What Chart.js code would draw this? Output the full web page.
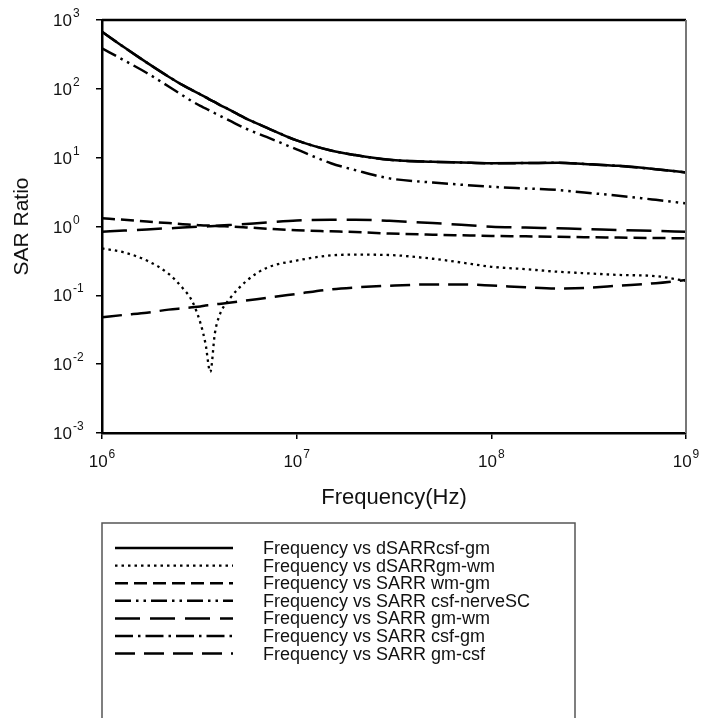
<!DOCTYPE html>
<html lang="en">
<head>
  <meta charset="UTF-8" />
  <title>SAR Ratio vs Frequency</title>
  <script src="https://cdn.jsdelivr.net/npm/chart.js"></script>
  <style>
    html, body { margin: 0; padding: 0; background: #fff; }
  </style>
</head>
<body>
  <canvas id="sarChart" width="702" height="718"></canvas>

<script>
  // Frequency samples (Hz), shared by every curve
  const freq = [1e6, 1.3e6, 1.7e6, 2.2e6, 2.6e6, 2.9e6, 3.2e6, 3.4e6, 3.6e6, 3.8e6, 4e6, 4.5e6, 5.5e6, 7e6,
                1e7, 1.5e7, 2e7, 3e7, 5e7, 7e7, 1e8, 1.5e8, 2.2e8, 3e8, 4.5e8, 7e8, 1e9];

  // Values
  const dSARRcsfGm   = [676, 401, 240, 150, 113, 96, 83, 76, 69, 64, 59, 50, 37, 27.4,
                        17.8, 12.7, 10.9, 9.3, 8.7, 8.5, 8.3, 8.35, 8.45, 8.1, 7.6, 6.8, 6.1];
  const dSARRgmWm    = [0.48, 0.42, 0.32, 0.205, 0.127, 0.083, 0.04, 0.02, 0.0077, 0.028, 0.05, 0.087, 0.16, 0.25,
                        0.32, 0.38, 0.39, 0.385, 0.34, 0.30, 0.26, 0.24, 0.22, 0.21, 0.198, 0.19, 0.162];
  const sarrWmGm     = [1.32, 1.25, 1.18, 1.12, 1.08, 1.06, 1.04, 1.035, 1.03, 1.02, 1.01, 1.0, 0.97, 0.93,
                        0.88, 0.85, 0.83, 0.79, 0.76, 0.745, 0.73, 0.72, 0.71, 0.70, 0.69, 0.68, 0.675];
  const sarrCsfNerve = [388, 259, 170, 108, 80, 66, 56.5, 52, 47.8, 44.2, 41.1, 34.8, 26.3, 20,
                        13.2, 8.3, 6.6, 5.0, 4.35, 4.05, 3.78, 3.57, 3.39, 3.12, 2.8, 2.44, 2.17];
  const sarrGmWm     = [0.84, 0.873, 0.908, 0.942, 0.964, 0.98, 0.993, 1.0, 1.01, 1.02, 1.03, 1.05, 1.09, 1.14,
                        1.22, 1.25, 1.25, 1.21, 1.12, 1.06, 0.995, 0.966, 0.94, 0.92, 0.89, 0.863, 0.84];
  const sarrCsfGm    = [676, 401, 240, 150, 113, 96, 83, 76, 69, 64, 59, 50, 37, 27.4,
                        17.8, 12.7, 10.9, 9.3, 8.7, 8.5, 8.3, 8.35, 8.45, 8.1, 7.6, 6.8, 6.1];
  const sarrGmCsf    = [0.048, 0.052, 0.056, 0.062, 0.065, 0.067, 0.069, 0.071, 0.072, 0.074, 0.075, 0.078, 0.084, 0.092,
                        0.105, 0.122, 0.130, 0.138, 0.144, 0.144, 0.139, 0.131, 0.126, 0.128, 0.138, 0.150, 0.167];

  const seriesLabels = [
    'Frequency vs dSARRcsf-gm',
    'Frequency vs dSARRgm-wm',
    'Frequency vs SARR wm-gm',
    'Frequency vs SARR csf-nerveSC',
    'Frequency vs SARR gm-wm',
    'Frequency vs SARR csf-gm',
    'Frequency vs SARR gm-csf'
  ];
  const seriesValues = [dSARRcsfGm, dSARRgmWm, sarrWmGm, sarrCsfNerve, sarrGmWm, sarrCsfGm, sarrGmCsf];

  // Tick labels are powers of ten
  const xTickExps = [6, 7, 8, 9];
  const yTickExps = [-3, -2, -1, 0, 1, 2, 3];

  // line styles for each curve (same order as labels)
  const dashes = [[], [2.5, 4], [13, 6], [16, 5, 2.5, 5, 2.5, 5], [25, 10], [18, 5, 2.5, 5], [20, 9]];
  const widths = [2.5, 2.3, 2.5, 2.5, 2.5, 2.5, 2.5];

  const FONT = '"Liberation Sans", Arial, sans-serif';
  Chart.defaults.font.family = FONT;
  Chart.defaults.color = '#111';

  const datasets = seriesValues.map((vals, i) => ({
    label: seriesLabels[i],
    data: freq.map((f, k) => ({ x: f, y: vals[k] })),
    borderColor: '#000',
    borderWidth: widths[i],
    borderDash: dashes[i],
    borderCapStyle: 'butt',
    pointRadius: 0,
    fill: false,
    cubicInterpolationMode: 'monotone'
  }));

  // top and right frame lines
  const framePlugin = {
    id: 'frame',
    afterDatasetsDraw(chart) {
      const { ctx, chartArea: a } = chart;
      ctx.save();
      ctx.strokeStyle = '#000';
      ctx.lineWidth = 2.5;
      ctx.beginPath();
      ctx.moveTo(a.left, a.top);
      ctx.lineTo(a.right, a.top);
      ctx.stroke();
      ctx.strokeStyle = '#777';
      ctx.lineWidth = 2;
      ctx.beginPath();
      ctx.moveTo(a.right, a.top);
      ctx.lineTo(a.right, a.bottom);
      ctx.stroke();
      ctx.restore();
    }
  };

  // "10^n" tick labels with raised exponent
  const powerLabels = {
    id: 'powerLabels',
    afterDraw(chart) {
      const { ctx, scales: { x, y } } = chart;
      ctx.save();
      ctx.fillStyle = '#111';
      ctx.textBaseline = 'alphabetic';
      yTickExps.forEach(e => {
        const py = y.getPixelForValue(Math.pow(10, e));
        const right = y.right - 30;
        ctx.font = '17px ' + FONT;
        ctx.textAlign = 'right';
        ctx.fillText('10', right, py + 6);
        ctx.font = '12px ' + FONT;
        ctx.textAlign = 'left';
        ctx.fillText(String(e), right + 1, py - 3);
      });
      xTickExps.forEach(e => {
        const px = x.getPixelForValue(Math.pow(10, e));
        ctx.font = '17px ' + FONT;
        const w10 = ctx.measureText('10').width;
        ctx.font = '12px ' + FONT;
        const we = ctx.measureText(String(e)).width;
        const start = px - (w10 + we + 1) / 2;
        ctx.textAlign = 'left';
        ctx.font = '17px ' + FONT;
        ctx.fillText('10', start, x.top + 34);
        ctx.font = '12px ' + FONT;
        ctx.fillText(String(e), start + w10 + 1, x.top + 25);
      });
      ctx.restore();
    }
  };

  // boxed legend under the plot
  const boxLegend = {
    id: 'boxLegend',
    afterDraw(chart) {
      const { ctx, scales: { x } } = chart;
      const left = x.left, top = 523, right = 575, bottom = 730;
      ctx.save();
      ctx.strokeStyle = '#555';
      ctx.lineWidth = 1.5;
      ctx.setLineDash([]);
      ctx.strokeRect(left, top, right - left, bottom - top);
      chart.data.datasets.forEach((ds, i) => {
        const ry = 548 + i * 17.6;
        ctx.strokeStyle = '#000';
        ctx.lineWidth = ds.borderWidth;
        ctx.setLineDash(ds.borderDash);
        ctx.beginPath();
        ctx.moveTo(left + 13, ry);
        ctx.lineTo(left + 131, ry);
        ctx.stroke();
        ctx.setLineDash([]);
        ctx.fillStyle = '#111';
        ctx.font = '18px ' + FONT;
        ctx.textAlign = 'left';
        ctx.textBaseline = 'middle';
        ctx.fillText(ds.label, left + 161, ry + 1);
      });
      ctx.restore();
    }
  };

  new Chart(document.getElementById('sarChart'), {
    type: 'line',
    data: { datasets },
    options: {
      responsive: false,
      animation: false,
      devicePixelRatio: 1,
      layout: { padding: { left: 0, top: 20, right: 16, bottom: 207 } },
      plugins: { legend: { display: false }, tooltip: { enabled: false } },
      scales: {
        x: {
          type: 'logarithmic',
          min: 1e6,
          max: 1e9,
          afterBuildTicks: s => { s.ticks = xTickExps.map(e => ({ value: Math.pow(10, e) })); },
          afterFit: s => { s.height = 78; },
          ticks: { display: false },
          grid: { drawOnChartArea: false, drawTicks: true, tickLength: 6, color: '#000', lineWidth: 1.5 },
          border: { display: true, color: '#000', width: 2.5 },
          title: { display: true, text: 'Frequency(Hz)', font: { size: 22 }, color: '#111', padding: { top: 0, bottom: 0 } }
        },
        y: {
          type: 'logarithmic',
          min: 1e-3,
          max: 1e3,
          afterBuildTicks: s => { s.ticks = yTickExps.map(e => ({ value: Math.pow(10, e) })); },
          afterFit: s => { s.width = 102; },
          ticks: { display: false },
          grid: { drawOnChartArea: false, drawTicks: true, tickLength: 6, color: '#000', lineWidth: 1.5 },
          border: { display: true, color: '#000', width: 2.5 },
          title: { display: true, text: 'SAR Ratio', font: { size: 21 }, color: '#111', padding: { top: 10, bottom: 0 } }
        }
      }
    },
    plugins: [framePlugin, powerLabels, boxLegend]
  });
</script>
</body>
</html>
